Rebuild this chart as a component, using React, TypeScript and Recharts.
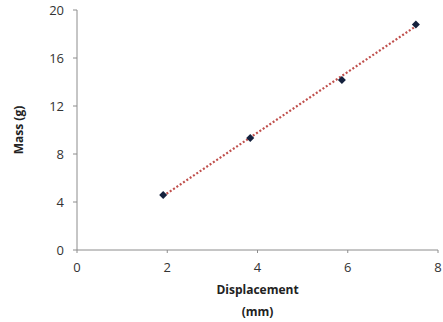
import { ScatterChart, Scatter, XAxis, YAxis, Label } from 'recharts';

// measured points (displacement mm, mass g)
const displacement = [1.91, 3.84, 5.87, 7.51];
const mass = [4.58, 9.33, 14.17, 18.8];

// linear trendline ends
const trendX = [1.91, 7.51];
const trendY = [4.5, 18.65];

const xTicks = [0, 2, 4, 6, 8];
const yTicks = [0, 4, 8, 12, 16, 20];

const points = displacement.map((x, i) => ({ x, y: mass[i] }));
const trend = trendX.map((x, i) => ({ x, y: trendY[i] }));

const axisColor = '#8c8c8c';
const font = '"Open Sans", "Liberation Sans", sans-serif';

function Diamond(props: any) {
  const { cx, cy } = props;
  const r = 4;
  return (
    <polygon
      points={`${cx},${cy - r} ${cx + r},${cy} ${cx},${cy + r} ${cx - r},${cy}`}
      fill="#14213d"
    />
  );
}

export default function App() {
  return (
    <div style={{ position: 'absolute', left: 0, top: 0, width: 443, height: 322, background: '#fff' }}>
      <ScatterChart
        width={443}
        height={322}
        margin={{ top: 10, right: 5, left: 0, bottom: 0 }}
        style={{ fontFamily: font, overflow: 'visible' }}
      >
        <XAxis
          type="number"
          dataKey="x"
          domain={[0, 8]}
          ticks={xTicks}
          height={72}
          stroke={axisColor}
          tickSize={3}
          tickMargin={10}
          tick={{ fill: '#333', fontSize: 13 }}
        >
          <Label
            position="insideTop"
            content={({ viewBox }: any) => {
              const cx = viewBox.x + viewBox.width / 2;
              const y0 = viewBox.y;
              return (
                <text textAnchor="middle" fontSize={12} fontWeight="bold" fill="#222">
                  <tspan x={cx} y={y0 + 44}>Displacement</tspan>
                  <tspan x={cx} y={y0 + 66}>(mm)</tspan>
                </text>
              );
            }}
          />
        </XAxis>
        <YAxis
          type="number"
          dataKey="y"
          domain={[0, 20]}
          ticks={yTicks}
          width={77}
          stroke={axisColor}
          tickSize={4}
          tickMargin={9}
          tick={{ fill: '#333', fontSize: 13 }}
        >
          <Label
            value="Mass (g)"
            angle={-90}
            position="insideLeft"
            offset={19}
            style={{ fontSize: 12, fontWeight: 'bold', fill: '#222', textAnchor: 'middle' }}
          />
        </YAxis>
        <Scatter
          data={trend}
          line={{ stroke: '#c0504d', strokeWidth: 2.2, strokeDasharray: '2 2' }}
          shape={() => null}
          isAnimationActive={false}
        />
        <Scatter data={points} shape={<Diamond />} isAnimationActive={false} />
      </ScatterChart>
    </div>
  );
}
